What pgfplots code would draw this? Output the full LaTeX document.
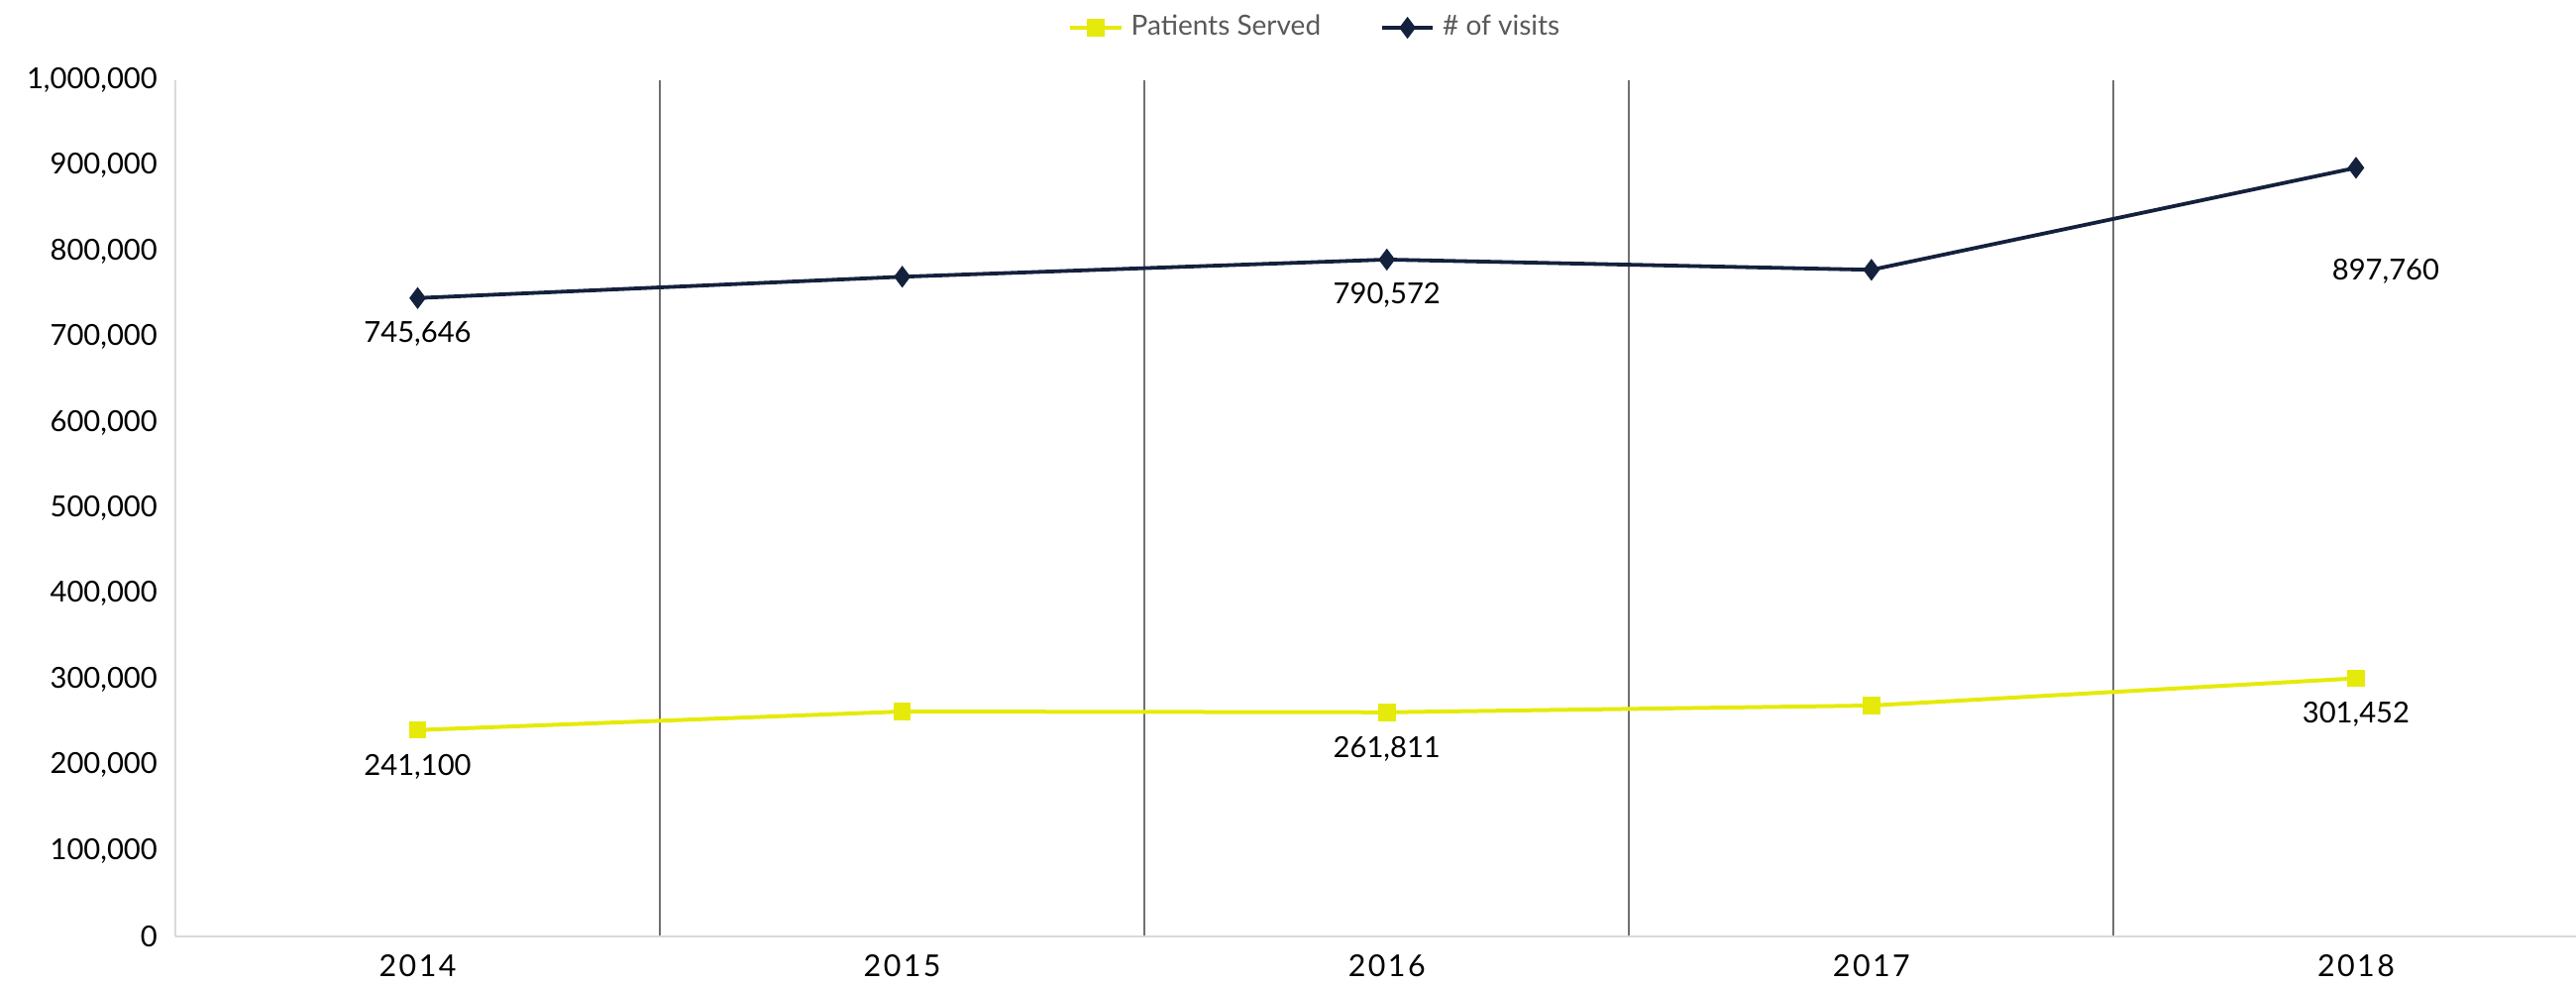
\documentclass[border=0pt]{standalone}
\usepackage{fontspec}
\setmainfont{Lato}
\usepackage{pgfplots}
\pgfplotsset{compat=1.18}
\definecolor{visitnavy}{HTML}{14213D}
\definecolor{patyellow}{HTML}{E6EA0A}
\definecolor{axisgray}{HTML}{D9D9D9}
\definecolor{gridgray}{HTML}{707070}
\definecolor{legendtext}{HTML}{595959}

\begin{document}
\begin{tikzpicture}
\begin{axis}[
    scale only axis,
    width=605.75pt,
    height=216pt,
    xmin=-0.5, xmax=4.454,
    ymin=0, ymax=1000000,
    xtick={0,1,2,3,4},
    xticklabels={2014,2015,2016,2017,2018},
    minor xtick={0.5,1.5,2.5,3.5},
    xminorgrids=true,
    minor grid style={draw=gridgray, line width=0.5pt},
    scaled y ticks=false,
    ytick={0,100000,200000,300000,400000,500000,600000,700000,800000,900000,1000000},
    yticklabels={0,{100,000},{200,000},{300,000},{400,000},{500,000},{600,000},{700,000},{800,000},{900,000},{1,000,000}},
    axis x line*=bottom,
    axis y line*=left,
    axis line style={draw=axisgray, line width=0.6pt},
    major tick length=0pt,
    minor tick length=0pt,
    tick label style={font=\fontsize{7.3}{8}\selectfont, text=black},
    x tick label style={yshift=-1pt, font=\fontsize{7.6}{8}\selectfont\addfontfeature{LetterSpace=8}},
    y tick label style={xshift=-1pt},
    legend style={
        at={(0.476,1.0613)},
        anchor=center,
        draw=none,
        fill=none,
        legend columns=2,
        font=\fontsize{7}{8}\selectfont,
        text=legendtext,
        /tikz/every even column/.append style={column sep=1.3em}
    },
    legend image code/.code={
        \draw[#1] (0cm,0cm) -- (0.45cm,0cm);
        \draw[#1, only marks] plot coordinates {(0.225cm,0cm)};
    },
    clip=false,
]

\addplot[color=patyellow, line width=1.0pt, mark=square*,
         mark size=1.7pt, mark options={solid}] coordinates {
    (0,241100) (1,262700) (2,261811) (3,269700) (4,301452)
};
\addplot[color=visitnavy, line width=0.95pt, mark=diamond*,
         mark size=2.0pt] coordinates {
    (0,745646) (1,770500) (2,790572) (3,778600) (4,897760)
};
\legend{Patients Served, \# of visits}

\begin{scope}[every node/.style={font=\fontsize{7.3}{8}\selectfont, text=black, anchor=center}]
\node at ([yshift=-9pt]axis cs:0,745646) {745,646};
\node at ([yshift=-9pt]axis cs:2,790572) {790,572};
\node at ([xshift=7.5pt,yshift=-26.25pt]axis cs:4,897760) {897,760};
\node at ([yshift=-9.2pt]axis cs:0,241100) {241,100};
\node at ([yshift=-9.2pt]axis cs:2,261811) {261,811};
\node at ([yshift=-9.2pt]axis cs:4,301452) {301,452};
\end{scope}
\end{axis}
\pgfresetboundingbox
\path[use as bounding box]
    ([shift={(-44.25pt,-12.5pt)}]current axis.south west)
    rectangle ([shift={(0pt,20.25pt)}]current axis.north east);
\end{tikzpicture}
\end{document}
